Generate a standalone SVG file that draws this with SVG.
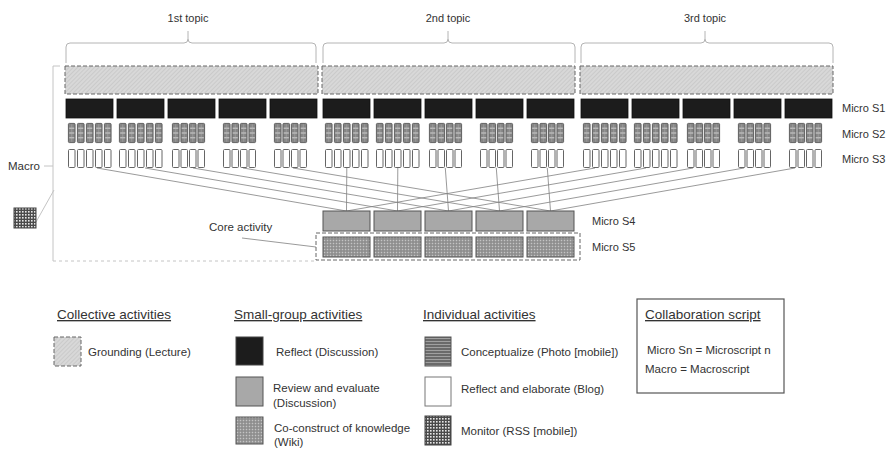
<svg xmlns="http://www.w3.org/2000/svg" xmlns:xlink="http://www.w3.org/1999/xlink" width="892" height="450" viewBox="0 0 892 450">
<style>
text{font-family:"Liberation Sans",Arial,sans-serif;fill:#333;font-size:11.5px}
.h{font-size:13.5px;text-decoration:underline}
.lbl{font-size:11px}
.brace{fill:none;stroke:#b4b4b4;stroke-width:1}
.grd{fill:url(#hatch);stroke:#666;stroke-width:1;stroke-dasharray:4 2}
.s1{fill:#1c1c1c;stroke:#111;stroke-width:0.8}
.s4{fill:#a8a8a8;stroke:#555;stroke-width:1}
.s5{fill:url(#dots);stroke:#555;stroke-width:1}
.con{stroke:#808080;stroke-width:0.8;fill:none}
.mac{stroke:#c4c4c4;stroke-width:1;fill:none}
</style>
<defs>
<pattern id="hatch" width="3" height="3" patternUnits="userSpaceOnUse" patternTransform="rotate(45)">
<rect width="3" height="3" fill="#d8d8d8"/>
<line x1="0" y1="0" x2="0" y2="3" stroke="#bdbdbd" stroke-width="1"/>
</pattern>
<pattern id="dots" width="3" height="3" patternUnits="userSpaceOnUse">
<rect width="3" height="3" fill="#9a9a9a"/>
<rect x="0" y="0" width="1" height="1" fill="#c4c4c4"/>
<rect x="1.5" y="1.5" width="1" height="1" fill="#6e6e6e"/>
</pattern>
<pattern id="grid" width="3" height="3" patternUnits="userSpaceOnUse">
<rect width="3" height="3" fill="#4a4a4a"/>
<rect x="1" y="1" width="1.6" height="1.6" fill="#e6e6e6"/>
</pattern>
<pattern id="stripes" width="4" height="3" patternUnits="userSpaceOnUse">
<rect width="4" height="3" fill="#6a6a6a"/>
<rect y="2" width="4" height="1" fill="#a0a0a0"/>
</pattern>
<symbol id="c2" viewBox="0 0 7.5 20" width="7.5" height="20" overflow="visible">
<rect x="0.4" y="0.4" width="6.7" height="19.2" rx="1" fill="#858585" stroke="#4a4a4a" stroke-width="0.8"/>
<path d="M1.2,5.2H6.3M1.2,10H6.3M1.2,14.8H6.3" stroke="#dcdcdc" stroke-width="0.9"/>
<path d="M3.75,1.2V18.8" stroke="#b0b0b0" stroke-width="0.5"/>
</symbol>
<symbol id="c3" viewBox="0 0 7.5 19" width="7.5" height="19" overflow="visible">
<rect x="0.5" y="0.5" width="6.5" height="18" rx="1" fill="#fff" stroke="#666" stroke-width="1"/>
</symbol>
</defs>

<g id="topics">
<g id="topic1"><path class="brace" d="M66,63V47Q66,43 70,43H184Q188,43 188,39V31M188,39Q188,43 192,43H312Q316,43 316,47V63"/><text x="188" y="22" text-anchor="middle" class="lbl">1st topic</text></g>
<g id="topic2"><path class="brace" d="M323,63V47Q323,43 327,43H444Q448,43 448,39V31M448,39Q448,43 452,43H571Q575,43 575,47V63"/><text x="448" y="22" text-anchor="middle" class="lbl">2nd topic</text></g>
<g id="topic3"><path class="brace" d="M581,63V47Q581,43 585,43H701Q705,43 705,39V31M705,39Q705,43 709,43H829Q833,43 833,47V63"/><text x="705" y="22" text-anchor="middle" class="lbl">3rd topic</text></g>
</g>

<g id="connectors">
<path class="mac" d="M60,66H53V261"/>
<path class="mac" d="M53,261H316" stroke-dasharray="3 3"/>
<path class="mac" d="M44,166H53"/>
<path class="mac" d="M36,222L54,190"/>
<path class="con" d="M242,238L316,247"/>
<path class="con" d="M97,168L346.5,211M145,168L397.5,211M193,168L448.5,211M243,168L499.5,211M293,168L550.5,211"/>
<path class="con" d="M346.8,168L346.5,211M397.8,168L397.5,211M445.3,168L448.5,211M496.3,168L499.5,211M547.3,168L550.5,211"/>
<path class="con" d="M595,168L346.5,211M646,168L397.5,211M693,168L448.5,211M744,168L499.5,211M795,168L550.5,211"/>
</g>

<g id="grounding">
<rect id="g1" class="grd" x="65" y="66" width="253" height="28"/>
<rect id="g2" class="grd" x="322" y="66" width="253" height="28"/>
<rect id="g3" class="grd" x="580" y="66" width="253" height="28"/>
</g>

<g id="microS1">
<rect class="s1" x="66" y="99" width="47" height="19"/><rect class="s1" x="117" y="99" width="47" height="19"/><rect class="s1" x="168" y="99" width="47" height="19"/><rect class="s1" x="219" y="99" width="47" height="19"/><rect class="s1" x="270" y="99" width="47" height="19"/>
<rect class="s1" x="323" y="99" width="47" height="19"/><rect class="s1" x="374" y="99" width="47" height="19"/><rect class="s1" x="425" y="99" width="47" height="19"/><rect class="s1" x="476" y="99" width="47" height="19"/><rect class="s1" x="527" y="99" width="47" height="19"/>
<rect class="s1" x="581" y="99" width="47" height="19"/><rect class="s1" x="632" y="99" width="47" height="19"/><rect class="s1" x="683" y="99" width="47" height="19"/><rect class="s1" x="734" y="99" width="47" height="19"/><rect class="s1" x="785" y="99" width="47" height="19"/>
<text x="842" y="112" class="lbl">Micro S1</text>
</g>

<g id="microS2">
<use href="#c2" x="68" y="123"/><use href="#c2" x="77" y="123"/><use href="#c2" x="86" y="123"/><use href="#c2" x="95" y="123"/><use href="#c2" x="104" y="123"/>
<use href="#c2" x="119" y="123"/><use href="#c2" x="128" y="123"/><use href="#c2" x="137" y="123"/><use href="#c2" x="146" y="123"/><use href="#c2" x="155" y="123"/>
<use href="#c2" x="172" y="123"/><use href="#c2" x="180.5" y="123"/><use href="#c2" x="189" y="123"/><use href="#c2" x="197.5" y="123"/>
<use href="#c2" x="223" y="123"/><use href="#c2" x="231.5" y="123"/><use href="#c2" x="240" y="123"/><use href="#c2" x="248.5" y="123"/>
<use href="#c2" x="274" y="123"/><use href="#c2" x="282.5" y="123"/><use href="#c2" x="291" y="123"/><use href="#c2" x="299.5" y="123"/>
<use href="#c2" x="325" y="123"/><use href="#c2" x="334" y="123"/><use href="#c2" x="343" y="123"/><use href="#c2" x="352" y="123"/><use href="#c2" x="361" y="123"/>
<use href="#c2" x="376" y="123"/><use href="#c2" x="385" y="123"/><use href="#c2" x="394" y="123"/><use href="#c2" x="403" y="123"/><use href="#c2" x="412" y="123"/>
<use href="#c2" x="429" y="123"/><use href="#c2" x="437.5" y="123"/><use href="#c2" x="446" y="123"/><use href="#c2" x="454.5" y="123"/>
<use href="#c2" x="480" y="123"/><use href="#c2" x="488.5" y="123"/><use href="#c2" x="497" y="123"/><use href="#c2" x="505.5" y="123"/>
<use href="#c2" x="531" y="123"/><use href="#c2" x="539.5" y="123"/><use href="#c2" x="548" y="123"/><use href="#c2" x="556.5" y="123"/>
<use href="#c2" x="583" y="123"/><use href="#c2" x="592" y="123"/><use href="#c2" x="601" y="123"/><use href="#c2" x="610" y="123"/><use href="#c2" x="619" y="123"/>
<use href="#c2" x="634" y="123"/><use href="#c2" x="643" y="123"/><use href="#c2" x="652" y="123"/><use href="#c2" x="661" y="123"/><use href="#c2" x="670" y="123"/>
<use href="#c2" x="687" y="123"/><use href="#c2" x="695.5" y="123"/><use href="#c2" x="704" y="123"/><use href="#c2" x="712.5" y="123"/>
<use href="#c2" x="738" y="123"/><use href="#c2" x="746.5" y="123"/><use href="#c2" x="755" y="123"/><use href="#c2" x="763.5" y="123"/>
<use href="#c2" x="789" y="123"/><use href="#c2" x="797.5" y="123"/><use href="#c2" x="806" y="123"/><use href="#c2" x="814.5" y="123"/>
<text x="842" y="138" class="lbl">Micro S2</text>
</g>

<g id="microS3">
<use href="#c3" x="68" y="149"/><use href="#c3" x="77" y="149"/><use href="#c3" x="86" y="149"/><use href="#c3" x="95" y="149"/><use href="#c3" x="104" y="149"/>
<use href="#c3" x="119" y="149"/><use href="#c3" x="128" y="149"/><use href="#c3" x="137" y="149"/><use href="#c3" x="146" y="149"/><use href="#c3" x="155" y="149"/>
<use href="#c3" x="172" y="149"/><use href="#c3" x="180.5" y="149"/><use href="#c3" x="189" y="149"/><use href="#c3" x="197.5" y="149"/>
<use href="#c3" x="223" y="149"/><use href="#c3" x="231.5" y="149"/><use href="#c3" x="240" y="149"/><use href="#c3" x="248.5" y="149"/>
<use href="#c3" x="274" y="149"/><use href="#c3" x="282.5" y="149"/><use href="#c3" x="291" y="149"/><use href="#c3" x="299.5" y="149"/>
<use href="#c3" x="325" y="149"/><use href="#c3" x="334" y="149"/><use href="#c3" x="343" y="149"/><use href="#c3" x="352" y="149"/><use href="#c3" x="361" y="149"/>
<use href="#c3" x="376" y="149"/><use href="#c3" x="385" y="149"/><use href="#c3" x="394" y="149"/><use href="#c3" x="403" y="149"/><use href="#c3" x="412" y="149"/>
<use href="#c3" x="429" y="149"/><use href="#c3" x="437.5" y="149"/><use href="#c3" x="446" y="149"/><use href="#c3" x="454.5" y="149"/>
<use href="#c3" x="480" y="149"/><use href="#c3" x="488.5" y="149"/><use href="#c3" x="497" y="149"/><use href="#c3" x="505.5" y="149"/>
<use href="#c3" x="531" y="149"/><use href="#c3" x="539.5" y="149"/><use href="#c3" x="548" y="149"/><use href="#c3" x="556.5" y="149"/>
<use href="#c3" x="583" y="149"/><use href="#c3" x="592" y="149"/><use href="#c3" x="601" y="149"/><use href="#c3" x="610" y="149"/><use href="#c3" x="619" y="149"/>
<use href="#c3" x="634" y="149"/><use href="#c3" x="643" y="149"/><use href="#c3" x="652" y="149"/><use href="#c3" x="661" y="149"/><use href="#c3" x="670" y="149"/>
<use href="#c3" x="687" y="149"/><use href="#c3" x="695.5" y="149"/><use href="#c3" x="704" y="149"/><use href="#c3" x="712.5" y="149"/>
<use href="#c3" x="738" y="149"/><use href="#c3" x="746.5" y="149"/><use href="#c3" x="755" y="149"/><use href="#c3" x="763.5" y="149"/>
<use href="#c3" x="789" y="149"/><use href="#c3" x="797.5" y="149"/><use href="#c3" x="806" y="149"/><use href="#c3" x="814.5" y="149"/>
<text x="842" y="163" class="lbl">Micro S3</text>
</g>

<g id="macro">
<text x="8" y="170">Macro</text>
<rect x="14" y="208" width="22" height="20" fill="url(#grid)" stroke="#444" stroke-width="1"/>
</g>

<g id="microS4">
<rect class="s4" x="323" y="211" width="47" height="20"/><rect class="s4" x="374" y="211" width="47" height="20"/><rect class="s4" x="425" y="211" width="47" height="20"/><rect class="s4" x="476" y="211" width="47" height="20"/><rect class="s4" x="527" y="211" width="47" height="20"/>
<text x="592" y="225" class="lbl">Micro S4</text>
</g>

<g id="microS5">
<rect x="316" y="233" width="264" height="27" fill="none" stroke="#666" stroke-width="1" stroke-dasharray="4 2"/>
<rect class="s5" x="323" y="237" width="47" height="20"/><rect class="s5" x="374" y="237" width="47" height="20"/><rect class="s5" x="425" y="237" width="47" height="20"/><rect class="s5" x="476" y="237" width="47" height="20"/><rect class="s5" x="527" y="237" width="47" height="20"/>
<text x="592" y="251" class="lbl">Micro S5</text>
<text x="209" y="231">Core activity</text>
</g>

<g id="legend-collective">
<text x="57" y="319" class="h">Collective activities</text>
<rect x="54" y="337" width="27" height="29" class="grd"/>
<text x="88" y="356">Grounding (Lecture)</text>
</g>

<g id="legend-smallgroup">
<text x="234" y="319" class="h">Small-group activities</text>
<rect x="236" y="337" width="27" height="28" fill="#1c1c1c" stroke="#444"/>
<text x="276" y="356">Reflect (Discussion)</text>
<rect x="236" y="377" width="27" height="29" fill="#a8a8a8" stroke="#555"/>
<text x="273" y="392">Review and evaluate</text>
<text x="273" y="407">(Discussion)</text>
<rect x="236" y="417" width="27" height="27" class="s5"/>
<text x="274" y="432">Co-construct of knowledge</text>
<text x="274" y="446">(Wiki)</text>
</g>

<g id="legend-individual">
<text x="423" y="319" class="h">Individual activities</text>
<rect x="425" y="337" width="26" height="29" fill="url(#stripes)" stroke="#555"/>
<text x="461" y="356">Conceptualize (Photo [mobile])</text>
<rect x="425" y="377" width="26" height="29" fill="#fff" stroke="#777"/>
<text x="461" y="393">Reflect and elaborate (Blog)</text>
<rect x="425" y="416" width="26" height="29" fill="url(#grid)" stroke="#444"/>
<text x="461" y="435">Monitor (RSS [mobile])</text>
</g>

<g id="legend-script">
<rect x="637" y="299" width="147" height="94" fill="none" stroke="#555" stroke-width="1.2"/>
<text x="645" y="319" class="h">Collaboration script</text>
<text x="647" y="354">Micro Sn = Microscript n</text>
<text x="645" y="373">Macro = Macroscript</text>
</g>
</svg>
